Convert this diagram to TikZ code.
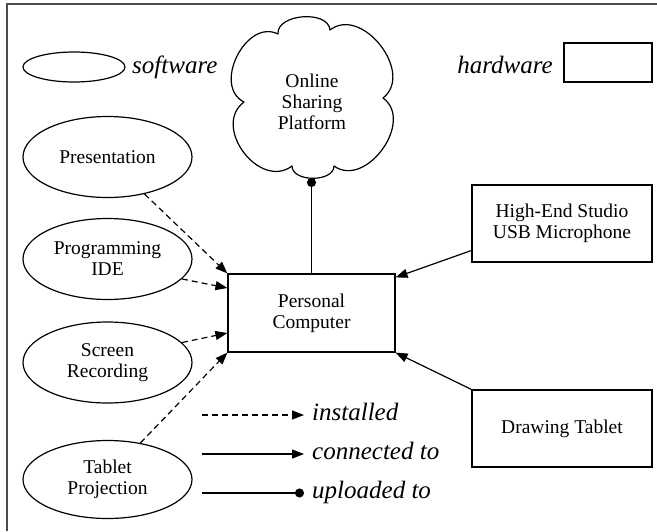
\documentclass[tikz,border=0pt]{standalone}
\usepackage{fontspec}
\setmainfont{Liberation Serif}
\usetikzlibrary{shapes.geometric,arrows.meta}
\begin{document}
\begin{tikzpicture}[x=1pt,y=-1pt,
  lw/.style={line width=1.2pt},
  nodefont/.style={font=\fontsize{19.5}{21}\selectfont},
  legfont/.style={font=\fontsize{25}{28}\selectfont\itshape},
  soft/.style={ellipse,draw,lw,nodefont,align=center,inner sep=0pt,minimum width=169pt,minimum height=81pt},
  hard/.style={rectangle,draw,lw,nodefont,align=center,inner sep=0pt},
  inst/.style={lw,dash pattern=on 6pt off 4pt,-{Triangle[length=12pt,width=9pt]}},
  conn/.style={lw,-{Triangle[length=12pt,width=9pt]}},
  upl/.style={lw,-{Circle[length=9pt]}},
  puff/.style={bend left=90,looseness=#1}
]
\useasboundingbox (0,0) rectangle (657,531);
% frame
\draw[line width=1.6pt,black!70] (7,531) -- (7,4) -- (657,4);

% legend
\node[ellipse,draw,lw,minimum width=102pt,minimum height=30pt,inner sep=0pt] (legsoft) at (74,67) {};
\node[legfont,anchor=base west,inner sep=0pt] (legsofttxt) at (132,73) {software};
\node[rectangle,draw,lw,minimum width=88pt,minimum height=39pt,inner sep=0pt] (leghard) at (608,62.5) {};
\node[legfont,anchor=base east,inner sep=0pt] (leghardtxt) at (553,73) {hardware};

% cloud
\draw[lw,line join=round] (278,34) to[puff=1] (330,30) to[puff=1.2] (383,98)
  to[puff=1.2] (334,166) to[puff=1] (292,166) to[puff=1.3] (244,102)
  to[puff=1.2] (278,34) -- cycle;
\node[nodefont,align=center,inner sep=0pt] (cloud) at (312,101.5) {Online\\Sharing\\Platform};
\coordinate (cloudbot) at (312,178);

% software nodes
\node[soft] (pres) at (107.5,157) {Presentation};
\node[soft] (ide) at (107.5,259) {Programming\\IDE};
\node[soft] (scr) at (107.5,362.5) {Screen\\Recording};
\node[soft,minimum height=78pt] (tab) at (107.5,479.5) {Tablet\\Projection};

% hardware nodes
\node[hard,minimum width=167pt,minimum height=78pt] (pc) at (311.5,313) {Personal\\Computer};
\node[hard,minimum width=180pt,minimum height=77pt] (mic) at (562,223.5) {High-End Studio\\USB Microphone};
\node[hard,minimum width=180pt,minimum height=77pt] (dt) at (562,428.5) {Drawing Tablet};

% edges
\draw[inst] (pres.-45) -- (pc.north west);
\draw[inst] (ide.-15) -- ([yshift=25pt]pc.west);
\draw[inst] (scr.15) -- ([yshift=-20pt]pc.west);
\draw[inst] (tab.48) -- (pc.south west);
\draw[conn] ([yshift=-27pt]mic.west) -- ([yshift=-4pt]pc.north east);
\draw[conn] (dt.north west) -- (pc.south east);
\draw[upl] (pc.north) -- (pc.north |- cloudbot);

% legend lines
\coordinate (l1a) at (202,415); \coordinate (l1b) at (304,415);
\coordinate (l2a) at (202,454); \coordinate (l2b) at (304,454);
\coordinate (l3a) at (202,493); \coordinate (l3b) at (304,493);
\draw[inst] (l1a) -- (l1b);
\draw[conn] (l2a) -- (l2b);
\draw[upl] (l3a) -- (l3b);
\node[legfont,anchor=base west,inner sep=0pt] (t1) at (312,420) {installed};
\node[legfont,anchor=base west,inner sep=0pt] (t2) at (312,459) {connected to};
\node[legfont,anchor=base west,inner sep=0pt] (t3) at (312,498) {uploaded to};
\end{tikzpicture}
\end{document}
